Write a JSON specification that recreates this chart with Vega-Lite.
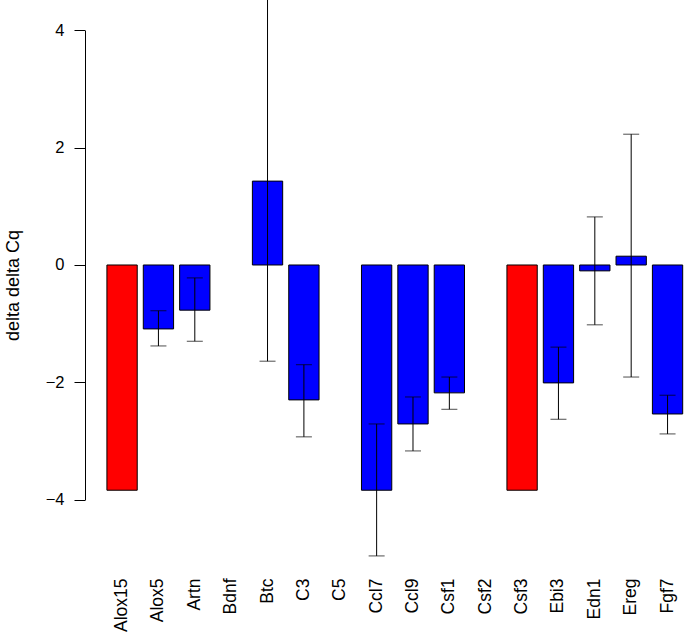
{
  "$schema": "https://vega.github.io/schema/vega-lite/v6.json",
  "width": 600,
  "height": 570,
  "autosize": {"type": "none"},
  "padding": {"left": 85, "top": 0, "right": 0, "bottom": 62},
  "background": "white",
  "config": {
    "view": {"stroke": null},
    "font": "Liberation Sans",
    "axis": {"labelFont": "Liberation Sans", "titleFont": "Liberation Sans", "labelColor": "black", "titleColor": "black", "grid": false}
  },
  "data": {
    "values": [
      {"gene": "Alox15", "ddcq": -3.84, "lo": null, "hi": null, "status": "undetermined"},
      {"gene": "Alox5", "ddcq": -1.09, "lo": -1.38, "hi": -0.78, "status": "measured"},
      {"gene": "Artn", "ddcq": -0.77, "lo": -1.30, "hi": -0.22, "status": "measured"},
      {"gene": "Bdnf", "ddcq": null, "lo": null, "hi": null, "status": "measured"},
      {"gene": "Btc", "ddcq": 1.43, "lo": -1.64, "hi": 4.7, "status": "measured"},
      {"gene": "C3", "ddcq": -2.30, "lo": -2.93, "hi": -1.70, "status": "measured"},
      {"gene": "C5", "ddcq": null, "lo": null, "hi": null, "status": "measured"},
      {"gene": "Ccl7", "ddcq": -3.84, "lo": -4.96, "hi": -2.71, "status": "measured"},
      {"gene": "Ccl9", "ddcq": -2.71, "lo": -3.17, "hi": -2.25, "status": "measured"},
      {"gene": "Csf1", "ddcq": -2.18, "lo": -2.46, "hi": -1.91, "status": "measured"},
      {"gene": "Csf2", "ddcq": null, "lo": null, "hi": null, "status": "measured"},
      {"gene": "Csf3", "ddcq": -3.84, "lo": null, "hi": null, "status": "undetermined"},
      {"gene": "Ebi3", "ddcq": -2.01, "lo": -2.63, "hi": -1.40, "status": "measured"},
      {"gene": "Edn1", "ddcq": -0.10, "lo": -1.02, "hi": 0.82, "status": "measured"},
      {"gene": "Ereg", "ddcq": 0.15, "lo": -1.91, "hi": 2.23, "status": "measured"},
      {"gene": "Fgf7", "ddcq": -2.54, "lo": -2.88, "hi": -2.22, "status": "measured"}
    ]
  },
  "encoding": {
    "x": {
      "field": "gene",
      "type": "nominal",
      "sort": null,
      "scale": {
        "domain": ["Alox15", "Alox5", "Artn", "Bdnf", "Btc", "C3", "C5", "Ccl7", "Ccl9", "Csf1", "Csf2", "Csf3", "Ebi3", "Edn1", "Ereg", "Fgf7"],
        "paddingInner": 0.1667, "paddingOuter": 0.333, "align": 0.905
      },
      "axis": {"title": null, "domain": false, "ticks": false, "labelAngle": -90, "labelPadding": 8, "labelFontSize": 17.5}
    }
  },
  "layer": [
    {
      "mark": {"type": "bar", "stroke": "black", "strokeWidth": 1, "clip": true},
      "encoding": {
        "y": {
          "field": "ddcq",
          "type": "quantitative",
          "scale": {"domain": [-5.2, 4.518], "nice": false, "zero": false},
          "axis": {
            "title": "delta delta Cq",
            "values": [-4, -2, 0, 2, 4],
            "format": "d",
            "tickSize": 11,
            "tickColor": "black",
            "domainColor": "black",
            "domainDash": [0, 70.4, 469.2, 1000],
            "labelFontSize": 16.5,
            "labelPadding": 10,
            "titleFontSize": 18,
            "titleFontWeight": "normal",
            "titlePadding": 23
          }
        },
        "y2": {"datum": 0},
        "color": {
          "field": "status",
          "type": "nominal",
          "scale": {"domain": ["undetermined", "measured"], "range": ["#FF0000", "#0000FF"]},
          "legend": null
        }
      }
    },
    {
      "mark": {"type": "rule", "color": "black", "strokeWidth": 1, "clip": true},
      "encoding": {
        "y": {"field": "lo", "type": "quantitative"},
        "y2": {"field": "hi"}
      }
    },
    {
      "mark": {"type": "tick", "color": "black", "thickness": 1, "size": 16, "clip": true},
      "encoding": {"y": {"field": "lo", "type": "quantitative"}}
    },
    {
      "mark": {"type": "tick", "color": "black", "thickness": 1, "size": 16, "clip": true},
      "encoding": {"y": {"field": "hi", "type": "quantitative"}}
    }
  ]
}
